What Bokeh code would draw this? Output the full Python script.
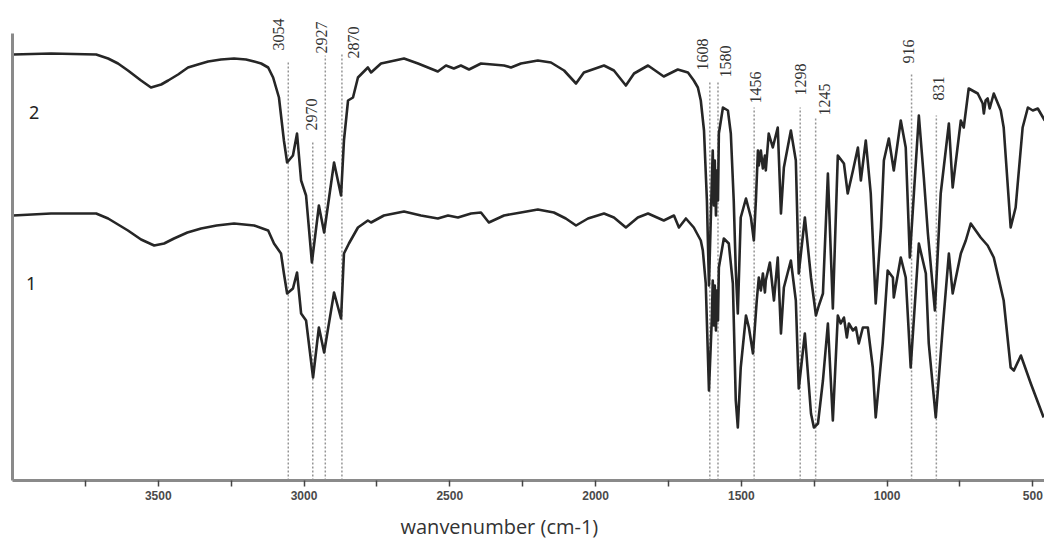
import numpy as np
from bokeh.plotting import figure
from bokeh.models import (Range1d, FixedTicker, ColumnDataSource, LabelSet,
                          Label, Title)
from bokeh.core.properties import value
from bokeh.embed import file_html
from bokeh.resources import INLINE

# ---------------- data (wavenumber cm-1, relative transmittance a.u.) ----------------
s2_wn = [3998, 3868, 3713, 3672, 3638, 3604, 3559, 3525, 3490, 3466, 3432, 3398, 3364,
         3329, 3285, 3240, 3199, 3171, 3147, 3123, 3106,
         3086, 3069, 3058, 3038, 3024, 3010, 2993, 2973, 2949, 2931, 2897, 2873,
         2863, 2849, 2832, 2815, 2781, 2770, 2736, 2657, 2609, 2541, 2513, 2486, 2462,
         2434, 2393, 2314, 2290, 2256, 2198, 2153, 2108, 2067, 2040, 1971, 1937, 1896,
         1868, 1820, 1766, 1718, 1683, 1663, 1649, 1639, 1628, 1618, 1611, 1601, 1598,
         1594, 1591, 1587, 1584, 1580, 1577, 1563, 1546, 1536, 1526, 1519, 1512, 1502,
         1484, 1467, 1457, 1450, 1443, 1440, 1433, 1426, 1419, 1416, 1406, 1392, 1375,
         1364, 1354, 1330, 1313, 1303, 1282, 1261, 1244, 1234, 1220, 1203, 1186, 1169,
         1148, 1135, 1117, 1100, 1090, 1073, 1056, 1039, 1021, 1011, 994, 977, 953, 936,
         922, 908, 891, 874, 860, 836, 816, 788, 775, 747, 737, 720, 689, 672, 668, 662,
         655, 648, 634, 610, 600, 576, 559, 535, 517, 500, 483, 459]
s2_t = [426, 427, 426, 422, 417, 410, 400, 393, 396, 400, 406, 413, 416,
        419, 421, 422, 421, 419, 417, 413, 403,
        383, 340, 318, 325, 347, 300, 285, 218, 275, 248, 318, 285,
        340, 380, 383, 403, 413, 408, 417, 422, 417, 409, 415, 412, 415,
        411, 417, 415, 413, 417, 420, 418, 410, 397, 408, 415, 410, 395,
        407, 415, 404, 411, 408, 400, 393, 380, 350, 280, 195, 300, 330,
        275, 320, 265, 310, 280, 347, 373, 370, 347, 280, 210, 167, 263,
        282, 263, 240, 280, 330, 315, 330, 312, 325, 310, 347, 333, 353,
        267, 313, 350, 320, 207, 263, 203, 165, 175, 187, 307, 172, 325,
        317, 287, 310, 333, 300, 340, 287, 177, 253, 320, 342, 310, 360, 333,
        223, 287, 365, 303, 247, 170, 287, 357, 293, 360, 353, 392, 387, 377, 367, 380,
        382, 372, 387, 370, 353, 253, 273, 353, 373, 370, 372, 360]

s1_wn = [3998, 3868, 3713, 3672, 3638, 3604, 3559, 3514, 3480, 3446, 3400, 3353, 3300,
         3240, 3171, 3123, 3103, 3079,
         3069, 3058, 3038, 3024, 3010, 2993, 2969, 2949, 2931, 2897, 2873, 2863, 2846,
         2815, 2781, 2770, 2726, 2657, 2599, 2541, 2506, 2472, 2427, 2393, 2366, 2314,
         2256, 2198, 2143, 2102, 2067, 2026, 1971, 1937, 1896, 1855, 1820, 1766, 1731,
         1714, 1690, 1663, 1639, 1632, 1622, 1611, 1601, 1598, 1594, 1591, 1587, 1584,
         1580, 1577, 1560, 1543, 1529, 1519, 1512, 1502, 1484, 1474, 1460, 1447, 1440,
         1433, 1426, 1419, 1416, 1402, 1388, 1375, 1364, 1354, 1330, 1313, 1303, 1282,
         1261, 1251, 1237, 1220, 1203, 1186, 1169, 1159, 1148, 1138, 1131, 1117, 1107,
         1097, 1083, 1066, 1049, 1039, 1015, 998, 980, 977, 953, 936, 919, 891, 867, 857,
         833, 809, 788, 775, 747, 730, 713, 679, 655, 634, 600, 576, 565, 541, 507, 463]
s1_t = [265, 267, 267, 262, 256, 250, 241, 235, 237, 242, 248, 252, 255,
        257, 255, 250, 237, 227,
        207, 187, 192, 208, 167, 160, 103, 153, 128, 188, 162, 227, 237,
        253, 260, 258, 265, 269, 265, 262, 265, 263, 267, 268, 258, 265,
        268, 271, 268, 262, 255, 262, 267, 263, 253, 263, 267, 260, 265,
        253, 262, 253, 240, 230, 197, 90, 163, 200, 155, 195, 150, 190,
        160, 213, 242, 237, 197, 80, 53, 113, 165, 153, 127, 180, 203,
        190, 207, 188, 200, 218, 180, 223, 147, 193, 220, 180, 92, 147,
        67, 53, 57, 100, 157, 60, 165, 157, 163, 143, 157, 150, 153,
        137, 153, 153, 113, 63, 137, 210, 203, 183, 223, 203, 113, 237, 207, 137,
        63, 153, 227, 187, 227, 240, 257, 243, 235, 223, 180, 113, 110, 125, 97, 63]

peak_labels = ["3054", "2970", "2927", "2870", "1608", "1580", "1456", "1298", "1245", "916", "831"]
peak_wn = [3054, 2970, 2927, 2870, 1608, 1580, 1456, 1298, 1245, 916, 831]

# layout of the peak markers (heights in plot units, offsets in px)
line_top = [420, 340, 425, 427, 400, 400, 373, 373, 363, 408, 365]
label_base = [430, 350, 427, 422, 410, 403, 377, 385, 365, 417, 380]
label_dx = [-10, -1, -4, 12, -7, 8, 1, 0, 9, -3, 2]

tick_values = [500, 1000, 1500, 2000, 2500, 3000, 3500]
minor_tick_values = [750, 1250, 1750, 2250, 2750, 3250, 3750]

# ---------------- figure ----------------
p = figure(frame_width=1032, frame_height=480,
           x_range=Range1d(4000, 460), y_range=Range1d(0, 480),
           output_backend="svg", toolbar_location=None,
           min_border_left=12, min_border_right=0, min_border_top=0, min_border_bottom=0)
p.grid.visible = False
p.outline_line_color = None

ay = p.yaxis[0]
ay.ticker = FixedTicker(ticks=[])
ay.bounds = (0, 447)
ay.axis_line_color = "#8a8a8a"
ay.axis_line_width = 3
ay.major_tick_line_color = None
ay.minor_tick_line_color = None
ay.major_label_text_font_size = "0px"
ay.major_tick_out = 0
ay.major_tick_in = 0
ay.major_label_standoff = 0

ax = p.xaxis[0]
ax.ticker = FixedTicker(ticks=tick_values, minor_ticks=minor_tick_values)
ax.axis_line_color = "#8a8a8a"
ax.axis_line_width = 3
ax.major_tick_line_color = "#444444"
ax.major_tick_line_width = 1.5
ax.major_tick_in = 0
ax.major_tick_out = 6
ax.minor_tick_line_color = "#444444"
ax.minor_tick_line_width = 1.5
ax.minor_tick_in = 0
ax.minor_tick_out = 6
ax.major_label_text_font = "Liberation Sans"
ax.major_label_text_font_size = "12px"
ax.major_label_text_font_style = "bold"
ax.major_label_text_color = "#4a4a4a"
ax.major_label_standoff = 4

p.add_layout(Title(text="wanvenumber (cm-1)", align="left", offset=388,
                   text_font="Open Sans", text_font_size="20px",
                   text_font_style="normal", text_color="#333333", standoff=16), "below")

# dotted peak markers
src = ColumnDataSource(dict(wn=peak_wn, top=line_top, base=label_base,
                            dx=label_dx, txt=peak_labels, zero=[0] * len(peak_wn)))
p.segment(x0="wn", y0="zero", x1="wn", y1="top", source=src,
          line_dash="2 2", line_color="#959595", line_width=1.5)

# spectra
p.line(s2_wn, s2_t, line_color="#262626", line_width=2.6, line_join="round")
p.line(s1_wn, s1_t, line_color="#262626", line_width=2.6, line_join="round")

p.add_layout(LabelSet(x="wn", y="base", text="txt", source=src, x_offset="dx",
                      angle=90, angle_units="deg", text_align="left",
                      text_baseline="middle", text_font=value("Liberation Serif"),
                      text_font_size="16px", text_color="#333333"))

p.add_layout(Label(x=3926, y=368, text="2", text_align="center", text_baseline="middle",
                   text_font="Noto Sans", text_font_size="18px", text_color="#222222"))
p.add_layout(Label(x=3936, y=197, text="1", text_align="center", text_baseline="middle",
                   text_font="Noto Sans", text_font_size="18px", text_color="#222222"))

open("out.html", "w").write(file_html(p, INLINE))
